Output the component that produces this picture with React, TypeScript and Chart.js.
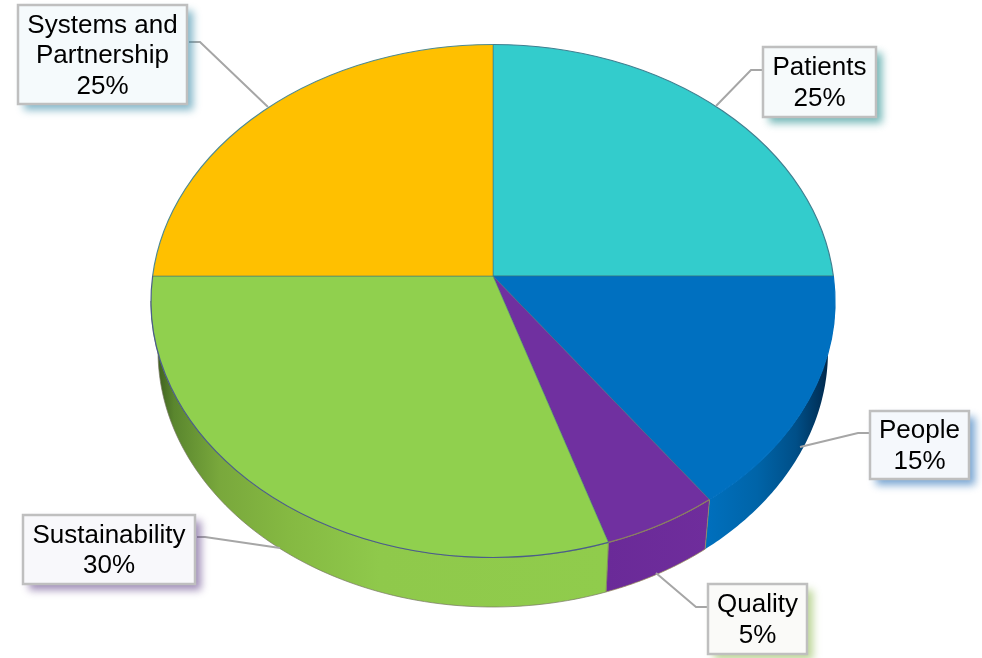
import React, { useEffect, useRef } from "react";
import { Chart, registerables } from "chart.js";

Chart.register(...registerables);

const categories = ["Patients", "People", "Quality", "Sustainability", "Systems and Partnership"];
const shares = [25, 15, 5, 30, 25];
const sliceColors = ["#33CCCC", "#0070C0", "#7030A0", "#90D04E", "#FFC000"];
const rimColors = ["#3F7F90", "#0070C0", "#8A8060", "#4A5E8A", "#4F8A90"];

// Side wall shading per slice, as left-to-right gradient stops across the wall.
const wallStops: Record<string, [number, string][]> = {
  People: [[0, "#0070BE"], [0.4, "#0064A8"], [0.7, "#004F88"], [0.9, "#003058"], [1, "#001C36"]],
  Quality: [[0, "#6A2A98"], [1, "#6F2D9C"]],
  Sustainability: [[0, "#33501A"], [0.05, "#5A862E"], [0.15, "#79A83C"], [0.3, "#85B942"], [0.5, "#8FC94B"], [1, "#90CC4C"]],
};
const wallEdges: Record<string, string> = {
  Quality: "rgba(150,140,90,0.8)",
  Sustainability: "rgba(120,120,100,0.7)",
};

// Tilted disc: top rim, bottom rim and the vanishing apex where the slices meet.
const topRim = { cx: 493, cy: 301, rx: 342, ry: 256.5 };
const bottomRim = { cx: 493, cy: 351, rx: 335, ry: 256 };
const apex = { x: 493, y: 276 };
const tilt = 0.75;

// Callout boxes with their wrapped text and leader lines.
const callouts = [
  { lines: ["Patients"], box: [763, 47, 113, 70], fill: "#F6FAFB", shadow: "rgba(40,145,145,0.65)", leader: [[763, 70], [751, 70], [716, 106]] },
  { lines: ["People"], box: [870, 411, 99, 68], fill: "#F5F8FC", shadow: "rgba(30,105,180,0.6)", leader: [[870, 433], [858, 433], [800, 447]] },
  { lines: ["Quality"], box: [708, 584, 99, 70], fill: "#FAFAF8", shadow: "rgba(135,180,70,0.55)", leader: [[708, 607], [696, 607], [656, 573]] },
  { lines: ["Sustainability"], box: [23, 515, 172, 69], fill: "#F8F8FB", shadow: "rgba(95,65,135,0.6)", leader: [[197, 537], [205, 537], [280, 548]] },
  { lines: ["Systems and", "Partnership"], box: [18, 5, 169, 99], fill: "#F5FAFC", shadow: "rgba(50,135,165,0.6)", leader: [[189, 42], [200, 42], [268, 107]] },
];

const LABEL_FONT = '26px "Liberation Sans", Arial, sans-serif';
const LINE_HEIGHT = 30.5;

// Parameter on the top rim where a ray leaving the apex at a slice angle lands.
function rimParam(angle: number): number {
  const dx = Math.cos(angle) / topRim.rx;
  const dy = (Math.sin(angle) * tilt) / topRim.ry;
  const oy = (apex.y - topRim.cy) / topRim.ry;
  const a = dx * dx + dy * dy;
  const b = 2 * oy * dy;
  const c = oy * oy - 1;
  const t = (-b + Math.sqrt(b * b - 4 * a * c)) / (2 * a);
  let phi = Math.atan2(oy + t * dy, t * dx);
  while (phi < angle - Math.PI) phi += Math.PI * 2;
  while (phi > angle + Math.PI) phi -= Math.PI * 2;
  return phi;
}

function rimPoint(rim: typeof topRim, phi: number): [number, number] {
  return [rim.cx + rim.rx * Math.cos(phi), rim.cy + rim.ry * Math.sin(phi)];
}

const tiltedDisc = {
  id: "tiltedDisc",
  beforeDatasetsDraw(chart: any) {
    const { ctx } = chart;
    const arcs = chart.getDatasetMeta(0).data;
    arcs.forEach((arc: any, i: number) => {
      const stops = wallStops[categories[i]];
      if (!stops) return;
      const from = Math.max(rimParam(arc.startAngle), 0);
      const to = Math.min(rimParam(arc.endAngle), Math.PI);
      if (to <= from) return;
      const steps = 80;
      const top: [number, number][] = [];
      const bottom: [number, number][] = [];
      for (let s = 0; s <= steps; s++) {
        const phi = from + ((to - from) * s) / steps;
        top.push(rimPoint(topRim, phi));
        bottom.push(rimPoint(bottomRim, phi));
      }
      const xs = [...top, ...bottom].map((p) => p[0]);
      const grad = ctx.createLinearGradient(Math.min(...xs), 0, Math.max(...xs), 0);
      stops.forEach(([o, c]) => grad.addColorStop(o, c));
      ctx.beginPath();
      top.forEach((p, k) => (k ? ctx.lineTo(p[0], p[1]) : ctx.moveTo(p[0], p[1])));
      bottom.reverse().forEach((p) => ctx.lineTo(p[0], p[1]));
      ctx.closePath();
      ctx.fillStyle = grad;
      ctx.fill();
      const edge = wallEdges[categories[i]];
      if (edge) {
        ctx.strokeStyle = edge;
        ctx.lineWidth = 1;
        ctx.stroke();
      }
    });
  },
  beforeDatasetDraw(chart: any) {
    const { ctx } = chart;
    const first = chart.getDatasetMeta(0).data[0];
    const reach = 400 / first.outerRadius;
    ctx.save();
    ctx.beginPath();
    ctx.ellipse(topRim.cx, topRim.cy, topRim.rx, topRim.ry, 0, 0, Math.PI * 2);
    ctx.clip();
    ctx.translate(apex.x, apex.y);
    ctx.scale(reach, reach * tilt);
    ctx.translate(-first.x, -first.y);
  },
  afterDatasetDraw(chart: any) {
    const { ctx } = chart;
    ctx.restore();
    // Rim outline, tinted slice by slice.
    chart.getDatasetMeta(0).data.forEach((arc: any, i: number) => {
      ctx.beginPath();
      ctx.ellipse(topRim.cx, topRim.cy, topRim.rx, topRim.ry, 0, rimParam(arc.startAngle), rimParam(arc.endAngle));
      ctx.strokeStyle = rimColors[i];
      ctx.lineWidth = 1.2;
      ctx.stroke();
    });
  },
  afterDraw(chart: any) {
    const { ctx } = chart;
    callouts.forEach((c, i) => {
      const [x, y, w, h] = c.box;
      ctx.save();
      ctx.strokeStyle = "#A6A6A6";
      ctx.lineWidth = 2;
      ctx.beginPath();
      c.leader.forEach((p, k) => (k ? ctx.lineTo(p[0], p[1]) : ctx.moveTo(p[0], p[1])));
      ctx.stroke();

      ctx.shadowColor = c.shadow;
      ctx.shadowBlur = 8;
      ctx.shadowOffsetX = 6;
      ctx.shadowOffsetY = 6;
      ctx.fillStyle = c.fill;
      ctx.fillRect(x, y, w, h);
      ctx.shadowColor = "transparent";
      ctx.strokeStyle = "#BFBFBF";
      ctx.lineWidth = 2.5;
      ctx.strokeRect(x, y, w, h);

      const rows = [...c.lines, `${shares[i]}%`];
      const midX = x + w / 2;
      const startY = y + h / 2 - ((rows.length - 1) * LINE_HEIGHT) / 2;
      ctx.fillStyle = "#000000";
      ctx.font = LABEL_FONT;
      ctx.textAlign = "center";
      ctx.textBaseline = "middle";
      rows.forEach((r, k) => ctx.fillText(r, midX, startY + k * LINE_HEIGHT + 1.5));
      ctx.restore();
    });
  },
};

export default function App() {
  const ref = useRef<HTMLCanvasElement>(null);
  useEffect(() => {
    const chart = new Chart(ref.current!, {
      type: "pie",
      data: {
        labels: categories,
        datasets: [
          {
            data: shares,
            backgroundColor: sliceColors,
            borderColor: "rgba(60,110,120,0.6)",
            borderWidth: 0.8,
            clip: false,
          } as any,
        ],
      },
      options: {
        animation: false,
        responsive: false,
        devicePixelRatio: 1,
        layout: { padding: 0 },
        plugins: { legend: { display: false }, tooltip: { enabled: false } },
      },
      plugins: [tiltedDisc],
    });
    return () => chart.destroy();
  }, []);
  return (
    <div style={{ position: "absolute", left: 0, top: 0, width: 982, height: 658, background: "#fff" }}>
      <canvas ref={ref} width={982} height={658} style={{ display: "block" }} />
    </div>
  );
}
